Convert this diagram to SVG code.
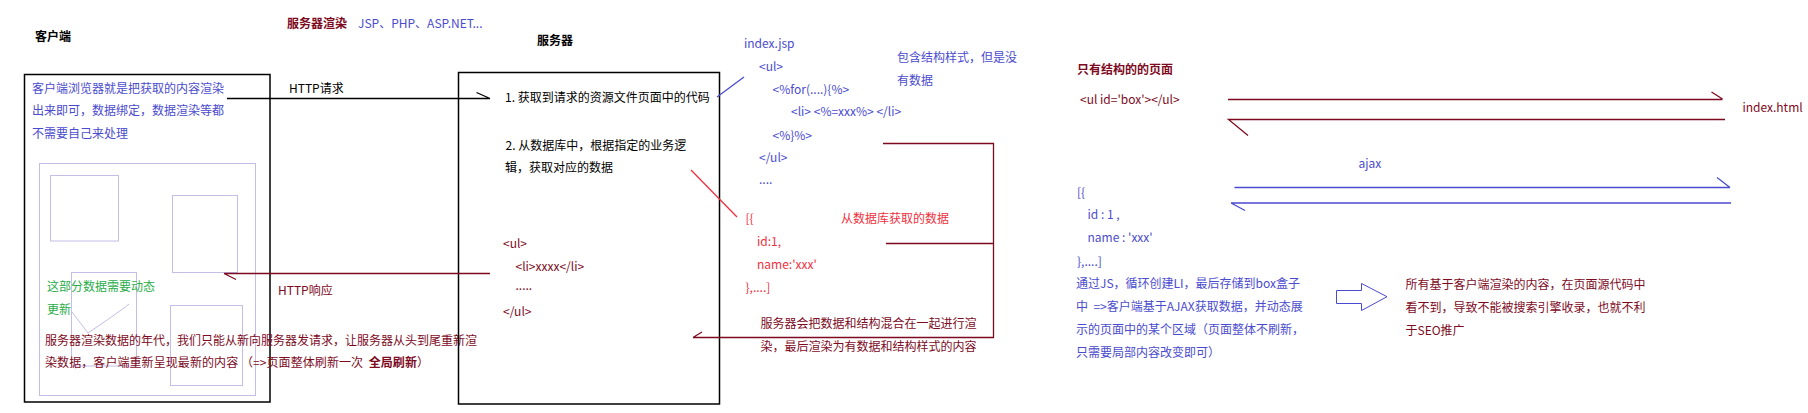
<svg xmlns="http://www.w3.org/2000/svg" width="1808" height="413" viewBox="0 0 1808 413">
<style>
text{font-family:"Noto Sans CJK SC","Liberation Sans",sans-serif;font-size:12px;white-space:pre}
.b{font-weight:bold}
.k{fill:#000}
.bl{fill:#4b4bcf}
.dr{fill:#7d0a1e}
.rd{fill:#f03040}
.gr{fill:#2aad4a}
.box{fill:none;stroke:#000;stroke-width:1.5}
.lil{fill:none;stroke:#c4bde8;stroke-width:1}
.ln{fill:none;stroke-width:1.3}
</style>
<rect width="1808" height="413" fill="#fff"/>

<g id="titles">
<text x="35" y="41" class="b k">客户端</text>
<text x="287" y="28" class="b dr">服务器渲染</text>
<text x="358" y="28" class="bl">JSP、PHP、ASP.NET...</text>
<text x="537" y="45" class="b k">服务器</text>
</g>

<g id="client">
<rect x="24.5" y="74.5" width="245.5" height="327.5" class="box"/>
<text x="32" y="93" class="bl">客户端浏览器就是把获取的内容渲染</text>
<text x="32" y="115" class="bl">出来即可，数据绑定，数据渲染等都</text>
<text x="32" y="137.5" class="bl">不需要自己来处理</text>
<rect x="39.5" y="163.5" width="216" height="232" class="lil"/>
<rect x="50.5" y="175.5" width="68" height="65.5" class="lil"/>
<rect x="172.5" y="195.5" width="65" height="77" class="lil"/>
<rect x="71.5" y="272.5" width="65" height="93.5" class="lil"/>
<rect x="170.5" y="305.5" width="72" height="80" class="lil"/>
<polyline points="72,312 88,333 110,318 124,308 129,304" class="lil"/>
<text x="47" y="291" class="gr">这部分数据需要动态</text>
<text x="47" y="313.5" class="gr">更新</text>
<text x="45" y="344.5" class="dr" textLength="432" lengthAdjust="spacing">服务器渲染数据的年代，我们只能从新向服务器发请求，让服务器从头到尾重新渲</text>
<text x="45" y="367" class="dr" textLength="384" lengthAdjust="spacing">染数据，客户端重新呈现最新的内容 （=&gt;页面整体刷新一次  <tspan class="b">全局刷新</tspan>）</text>
</g>

<g id="server">
<rect x="458.5" y="72.5" width="261" height="331.5" class="box"/>
<text x="505" y="102" class="k">1. 获取到请求的资源文件页面中的代码</text>
<text x="505.5" y="149.5" class="k">2. 从数据库中，根据指定的业务逻</text>
<text x="505" y="172" class="k">辑，获取对应的数据</text>
<text x="503" y="248" class="dr">&lt;ul&gt;</text>
<text x="515.5" y="270.5" class="dr">&lt;li&gt;xxxx&lt;/li&gt;</text>
<text x="515.5" y="290" class="dr">.....</text>
<text x="503" y="316" class="dr">&lt;/ul&gt;</text>
</g>

<g id="template">
<text x="744" y="47.5" class="bl">index.jsp</text>
<text x="759" y="70.5" class="bl">&lt;ul&gt;</text>
<text x="772.5" y="94" class="bl">&lt;%for(....){%&gt;</text>
<text x="791" y="116" class="bl">&lt;li&gt; &lt;%=xxx%&gt; &lt;/li&gt;</text>
<text x="772.5" y="139.5" class="bl">&lt;%}%&gt;</text>
<text x="759" y="162" class="bl">&lt;/ul&gt;</text>
<text x="759" y="184" class="bl">....</text>
<text x="897" y="62" class="bl">包含结构样式，但是没</text>
<text x="897" y="84.5" class="bl">有数据</text>
</g>

<g id="data">
<text x="745.5" y="223" class="rd">[{</text>
<text x="841" y="223" class="rd">从数据库获取的数据</text>
<text x="757" y="245.5" class="rd">id:1,</text>
<text x="757" y="269" class="rd">name:'xxx'</text>
<text x="745.5" y="292" class="rd">},....]</text>
<text x="760.5" y="328" class="dr">服务器会把数据和结构混合在一起进行渲</text>
<text x="760.5" y="351" class="dr">染，最后渲染为有数据和结构样式的内容</text>
</g>

<g id="ajax-side">
<text x="1077" y="73.5" class="b dr">只有结构的的页面</text>
<text x="1080" y="103.5" class="dr">&lt;ul id='box'&gt;&lt;/ul&gt;</text>
<text x="1742.5" y="111.5" class="dr">index.html</text>
<text x="1358.5" y="167.5" class="bl">ajax</text>
<text x="1077" y="197" class="bl">[{</text>
<text x="1087.5" y="219" class="bl">id : 1 ,</text>
<text x="1087.5" y="242" class="bl">name : 'xxx'</text>
<text x="1077" y="265.5" class="bl">},....]</text>
<text x="1076" y="288" class="bl">通过JS，循环创建LI，最后存储到box盒子</text>
<text x="1076" y="311" class="bl">中  =&gt;客户端基于AJAX获取数据，并动态展</text>
<text x="1076" y="334" class="bl">示的页面中的某个区域（页面整体不刷新，</text>
<text x="1076" y="357" class="bl">只需要局部内容改变即可）</text>
<polygon points="1336.5,290.5 1361.5,290.5 1361.5,283.5 1387,296.7 1361.5,310.5 1361.5,303.5 1336.5,303.5" fill="#fff" stroke="#4b4bcf" stroke-width="1"/>
<text x="1405.5" y="288.5" class="dr">所有基于客户端渲染的内容，在页面源代码中</text>
<text x="1405.5" y="312" class="dr">看不到，导致不能被搜索引擎收录，也就不利</text>
<text x="1405.5" y="334.5" class="dr">于SEO推广</text>
</g>

<g id="connectors">
<text x="289" y="93" class="k">HTTP请求</text>
<path d="M227,98.5 H490 M476.5,92.5 L490,98.5" class="ln" stroke="#000"/>
<text x="278" y="295" class="dr">HTTP响应</text>
<path d="M490,273.5 H224 M224,273.5 L236,279.5" class="ln" stroke="#7d0a1e"/>
<path d="M717,97 L744,77" class="ln" stroke="#4b4bcf" stroke-width="1"/>
<path d="M691,170 L737,217" class="ln" stroke="#f03040" stroke-width="1"/>
<path d="M883,143.5 H993.5 V337.5 H693 M886,243.5 H993.5 M693,337.5 L702,332" class="ln" stroke="#7d0a1e"/>
<path d="M1228,99.5 H1722.5 M1711.5,92 L1722.5,99" class="ln" stroke="#7d0a1e"/>
<path d="M1725,119.5 H1228.5 L1248,135.5" class="ln" stroke="#7d0a1e"/>
<path d="M1234.5,187.5 H1730 M1717,177.5 L1730,187.5" class="ln" stroke="#4b4bcf"/>
<path d="M1231,203 H1231 L1245,210.5 M1231,203 H1731" class="ln" stroke="#4b4bcf"/>
</g>
</svg>
